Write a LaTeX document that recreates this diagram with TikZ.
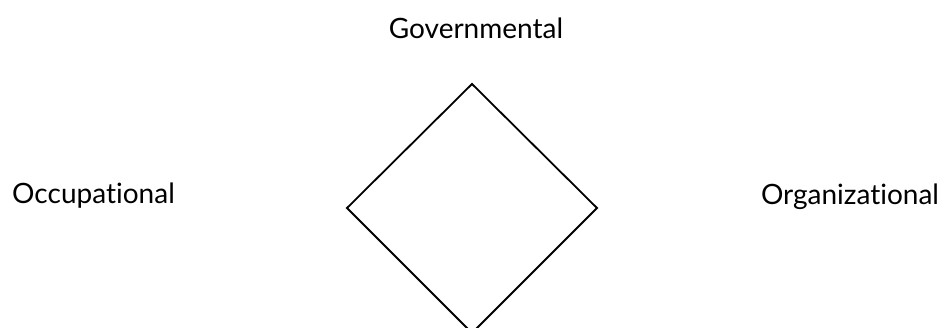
\documentclass[tikz,border=0pt]{standalone}
\usepackage{fontspec}
\setmainfont[Ligatures=NoCommon]{Lato}

\begin{document}
\begin{tikzpicture}[x=1pt,y=-1pt,every node/.style={font=\fontsize{28}{33}\selectfont,inner sep=0pt,anchor=base}]
\useasboundingbox(0,0)rectangle(948,327);
\draw[line width=1.8pt,line join=miter](472,84)--(597,208)--(472,333)--(347,208)--cycle;
\node(gov)at(476,38){Governmental};
\node(occ)at(93.5,203){Occupational};
\node(org)at(850,204){Organizational};
\end{tikzpicture}
\end{document}
